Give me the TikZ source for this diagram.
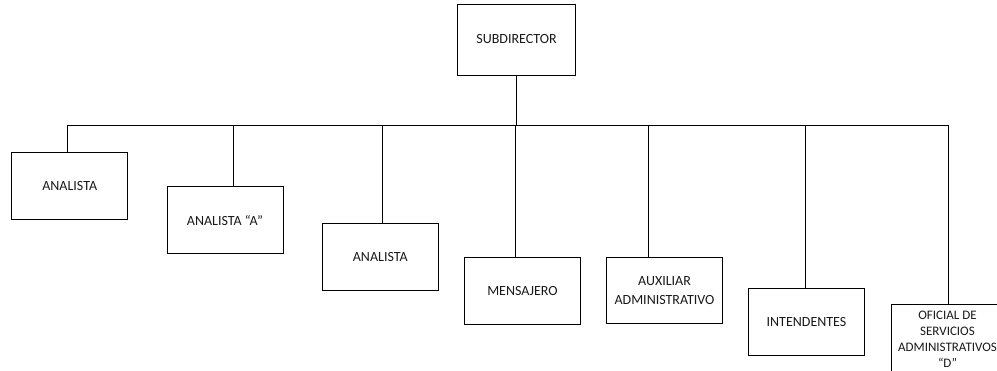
\documentclass[tikz,border=0pt]{standalone}
\usepackage{fontspec}
\setmainfont{Carlito}
\begin{document}
\begin{tikzpicture}[x=1pt,y=-1pt,
  box/.style={draw=black,line width=0.8pt,minimum width=116pt,minimum height=67pt,inner sep=1pt,align=center,font=\fontsize{14}{19.3}\selectfont,text=black!90},
  lbl/.style={inner sep=0pt,align=center,font=\fontsize{13}{16}\selectfont,text=black!90},
  wire/.style={draw=black,line width=0.8pt}]
\useasboundingbox (0,0) rectangle (997,371);
\clip (0,0) rectangle (997,371);
\node[box,minimum width=118pt,minimum height=71pt] (sub) at (516.5,39.5) {SUBDIRECTOR};
\node[box] (a1) at (69.7,186.3) {ANALISTA};
\node[box] (aa) at (225,220.3) {ANALISTA “A”};
\node[box] (a2) at (380.3,257.2) {ANALISTA};
\node[box] (men) at (522.5,291.2) {MENSAJERO};
\node[box,minimum height=66pt] (aux) at (664.5,290.3) {AUXILIAR\\ADMINISTRATIVO};
\node[box] (int) at (806.5,322.2) {INTENDENTES};
\node[box,minimum width=116pt,minimum height=68pt] (ofi) at (949,338) {};
\node[lbl] (ofit) at (947.5,339.5) {OFICIAL DE\\SERVICIOS\\ADMINISTRATIVOS\\“D”};
\coordinate (bl) at (67.7,125.5);
\coordinate (br) at (948.7,125.5);
\coordinate (bs) at (516,125.5);
\coordinate (b2) at (233.3,125.5);
\coordinate (b3) at (382.7,125.5);
\coordinate (b4) at (515.3,125.5);
\coordinate (b5) at (648.7,125.5);
\coordinate (b6) at (805.7,125.5);
\draw[wire] (bs |- sub.south) -- (bs);
\draw[wire] (a1.north -| bl) -- (bl) -- (br) -- (br |- ofi.north);
\draw[wire] (b2) -- (b2 |- aa.north);
\draw[wire] (b3) -- (b3 |- a2.north);
\draw[wire] (b4) -- (b4 |- men.north);
\draw[wire] (b5) -- (b5 |- aux.north);
\draw[wire] (b6) -- (b6 |- int.north);
\end{tikzpicture}
\end{document}
